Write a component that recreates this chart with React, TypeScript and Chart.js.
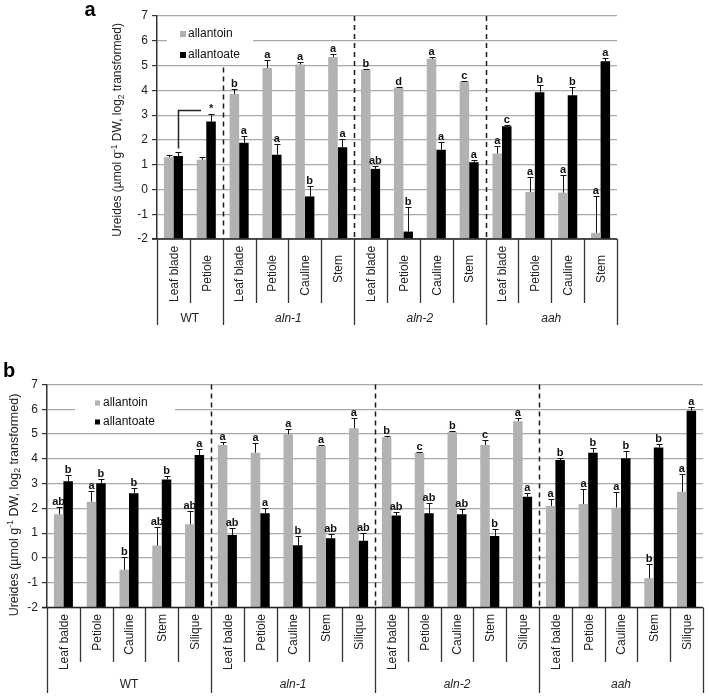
import React, { useEffect, useRef } from "react";
import { Chart, registerables } from "chart.js";
Chart.register(...registerables);

const FONT = "'Liberation Sans', Arial, Helvetica, sans-serif";
const GRAY = "#b2b2b2";
const BLACK = "#000000";

// ---------- Panel a ----------
const A_GROUPS = ["WT", "aln-1", "aln-2", "aah"];
const A_GROUP_SIZES = [2, 4, 4, 4];
const A_TISSUES = [
  "Leaf blade", "Petiole",
  "Leaf blade", "Petiole", "Cauline", "Stem",
  "Leaf blade", "Petiole", "Cauline", "Stem",
  "Leaf blade", "Petiole", "Cauline", "Stem",
];
const A_ALLANTOIN = [1.3, 1.2, 3.85, 4.9, 5.04, 5.35, 4.84, 4.1, 5.27, 4.36, 1.45, -0.1, -0.13, -1.75];
const A_ALLANTOIN_SE = [0.1, 0.1, 0.2, 0.33, 0.12, 0.1, 0.04, 0.03, 0.08, 0.03, 0.29, 0.6, 0.73, 1.5];
const A_ALLANTOIN_LETTERS = ["", "", "b", "a", "a", "a", "b", "d", "a", "c", "a", "a", "a", "a"];
const A_ALLANTOATE = [1.35, 2.74, 1.88, 1.4, -0.28, 1.7, 0.83, -1.7, 1.6, 1.1, 2.55, 3.92, 3.8, 5.17];
const A_ALLANTOATE_SE = [0.15, 0.29, 0.27, 0.45, 0.43, 0.35, 0.1, 1.01, 0.3, 0.1, 0.07, 0.28, 0.32, 0.13];
const A_ALLANTOATE_LETTERS = ["", "*", "a", "a", "b", "a", "ab", "b", "a", "a", "c", "b", "b", "a"];

// ---------- Panel b ----------
const B_GROUPS = ["WT", "aln-1", "aln-2", "aah"];
const B_GROUP_SIZES = [5, 5, 5, 5];
const B_TISSUES = [
  "Leaf balde", "Petiole", "Cauline", "Stem", "Silique",
  "Leaf balde", "Petiole", "Cauline", "Stem", "Silique",
  "Leaf balde", "Petiole", "Cauline", "Stem", "Silique",
  "Leaf balde", "Petiole", "Cauline", "Stem", "Silique",
];
const B_ALLANTOIN = [1.76, 2.27, -0.48, 0.5, 1.36, 4.56, 4.25, 4.99, 4.52, 5.23, 4.87, 4.25, 5.09, 4.56, 5.52, 2.1, 2.18, 2.03, -0.82, 2.67];
const B_ALLANTOIN_SE = [0.31, 0.44, 0.53, 0.76, 0.54, 0.13, 0.37, 0.2, 0.04, 0.4, 0.05, 0.04, 0.03, 0.2, 0.11, 0.28, 0.59, 0.62, 0.57, 0.72];
const B_ALLANTOIN_LETTERS = ["ab", "a", "b", "ab", "ab", "a", "a", "a", "a", "a", "b", "c", "b", "c", "a", "a", "a", "a", "b", "a"];
const B_ALLANTOATE = [3.1, 3.01, 2.61, 3.17, 4.15, 0.93, 1.8, 0.51, 0.79, 0.69, 1.71, 1.8, 1.76, 0.89, 2.47, 3.95, 4.25, 4.02, 4.46, 5.94];
const B_ALLANTOATE_SE = [0.25, 0.18, 0.2, 0.14, 0.25, 0.29, 0.2, 0.39, 0.16, 0.31, 0.16, 0.41, 0.2, 0.28, 0.16, 0.09, 0.2, 0.29, 0.12, 0.16];
const B_ALLANTOATE_LETTERS = ["b", "b", "b", "b", "a", "ab", "a", "b", "ab", "ab", "ab", "ab", "ab", "b", "a", "b", "b", "b", "b", "a"];

const Y_MIN = -2;
const Y_MAX = 7;
const SERIES_NAMES = ["allantoin", "allantoate"];

type Spec = {
  letter: string;
  letterX: number;
  letterY: number;
  height: number;
  axisLeft: number;
  padTop: number;
  padRight: number;
  padBottom: number;
  groups: string[];
  groupSizes: number[];
  tissues: string[];
  series: number[][];
  se: number[][];
  letters: string[][];
  dashStartVal: (number | null)[];
  legend: { x0: number; x1: number; y0: number; y1: number; sqX: number; sq: number; textX: number; rowY: number[] };
  titleX: number;
  titleY: number;
  titleSize: number;
  tissueTop: number;
  tissueMaxBottom: number | null;
  dividerBottom: number;
  groupBottom: number;
  groupLabelY: number;
  bracket: boolean;
};

function drawTitle(ctx: CanvasRenderingContext2D, cx: number, cy: number, size: number) {
  const segs = [
    { t: "Ureides (\u00b5mol g", k: 0 },
    { t: "-1", k: 1 },
    { t: " DW, log", k: 0 },
    { t: "2", k: -1 },
    { t: " transformed)", k: 0 },
  ];
  const f = (k: number) => `${k === 0 ? size : size * 0.7}px ${FONT}`;
  let total = 0;
  const widths = segs.map((s) => {
    ctx.font = f(s.k);
    const w = ctx.measureText(s.t).width;
    total += w;
    return w;
  });
  ctx.save();
  ctx.translate(cx, cy);
  ctx.rotate(-Math.PI / 2);
  ctx.fillStyle = "#222";
  ctx.textBaseline = "alphabetic";
  ctx.textAlign = "left";
  let x = -total / 2;
  const base = size * 0.36;
  segs.forEach((s, i) => {
    ctx.font = f(s.k);
    const dy = s.k === 1 ? -size * 0.38 : s.k === -1 ? size * 0.2 : 0;
    ctx.fillText(s.t, x, base + dy);
    x += widths[i];
  });
  ctx.restore();
}

function decor(p: Spec) {
  return {
    id: "decor",
    beforeDatasetsDraw(chart: any) {
      const { ctx, chartArea, scales } = chart;
      const { left, right, top, bottom } = chartArea;
      const y = scales.y;
      const n = p.tissues.length;
      const w = (right - left) / n;
      ctx.save();
      ctx.strokeStyle = "#1a1a1a";
      ctx.lineWidth = 1.5;
      ctx.setLineDash([5, 4]);
      let cum = 0;
      p.groupSizes.forEach((g, gi) => {
        cum += g;
        if (gi < p.groupSizes.length - 1) {
          const xx = Math.round(left + cum * w) + 0.5;
          const sv = p.dashStartVal[gi];
          const y0 = sv == null ? top : y.getPixelForValue(sv) + 2;
          ctx.beginPath();
          ctx.moveTo(xx, y0);
          ctx.lineTo(xx, bottom);
          ctx.stroke();
        }
      });
      ctx.setLineDash([]);
      const L = p.legend;
      ctx.fillStyle = "#fff";
      ctx.fillRect(L.x0, L.y0, L.x1 - L.x0, L.y1 - L.y0);
      ctx.font = `12px ${FONT}`;
      ctx.textBaseline = "middle";
      ctx.textAlign = "left";
      SERIES_NAMES.forEach((name, i) => {
        ctx.fillStyle = i === 0 ? GRAY : BLACK;
        ctx.fillRect(L.sqX, L.rowY[i] - L.sq / 2, L.sq, L.sq);
        ctx.fillStyle = "#111";
        ctx.fillText(name, L.textX, L.rowY[i]);
      });
      ctx.restore();
    },
    afterDatasetsDraw(chart: any) {
      const { ctx, scales } = chart;
      const y = scales.y;
      ctx.save();
      ctx.strokeStyle = "#111";
      ctx.lineWidth = 1;
      ctx.fillStyle = "#111";
      ctx.font = `bold 11px ${FONT}`;
      ctx.textAlign = "center";
      ctx.textBaseline = "alphabetic";
      p.series.forEach((vals, di) => {
        const meta = chart.getDatasetMeta(di);
        vals.forEach((v, i) => {
          const bar = meta.data[i];
          const cx = Math.round(bar.x) + 0.5;
          const yv = y.getPixelForValue(v);
          const ye = Math.round(y.getPixelForValue(v + p.se[di][i])) + 0.5;
          ctx.beginPath();
          ctx.moveTo(cx, yv);
          ctx.lineTo(cx, ye);
          ctx.moveTo(cx - 3, ye);
          ctx.lineTo(cx + 3, ye);
          ctx.stroke();
          const lt = p.letters[di][i];
          if (lt) ctx.fillText(lt, bar.x, ye - 2.5);
        });
      });
      if (p.bracket) {
        const meta = chart.getDatasetMeta(1);
        const x0 = Math.round(meta.data[0].x) + 0.5;
        const x1 = meta.data[1].x - 10;
        const yLow = y.getPixelForValue(1.65);
        const yHigh = Math.round(y.getPixelForValue(3.2)) + 0.5;
        ctx.lineWidth = 1.5;
        ctx.strokeStyle = "#222";
        ctx.beginPath();
        ctx.moveTo(x0, yLow);
        ctx.lineTo(x0, yHigh);
        ctx.lineTo(x1, yHigh);
        ctx.stroke();
      }
      ctx.restore();
    },
    afterDraw(chart: any) {
      const { ctx, chartArea } = chart;
      const { left, right, bottom } = chartArea;
      const n = p.tissues.length;
      const w = (right - left) / n;
      ctx.save();
      ctx.strokeStyle = "#222";
      ctx.lineWidth = 1.5;
      ctx.beginPath();
      ctx.moveTo(left - 5, bottom);
      ctx.lineTo(right, bottom);
      ctx.stroke();
      const groupEdges = new Set<number>();
      let cum = 0;
      groupEdges.add(0);
      p.groupSizes.forEach((g) => {
        cum += g;
        groupEdges.add(cum);
      });
      ctx.strokeStyle = "#333";
      ctx.lineWidth = 1.3;
      for (let k = 0; k <= n; k++) {
        const xx = Math.round(left + k * w) + 0.5;
        ctx.beginPath();
        ctx.moveTo(xx, bottom);
        ctx.lineTo(xx, groupEdges.has(k) ? p.groupBottom : p.dividerBottom);
        ctx.stroke();
      }
      ctx.fillStyle = "#222";
      ctx.font = `12px ${FONT}`;
      ctx.textAlign = "left";
      ctx.textBaseline = "middle";
      p.tissues.forEach((t, i) => {
        const cx = left + (i + 0.5) * w;
        const tw = ctx.measureText(t).width;
        let yStart = p.tissueTop + tw;
        if (p.tissueMaxBottom != null) yStart = Math.min(yStart, p.tissueMaxBottom);
        ctx.save();
        ctx.translate(cx + 1, yStart);
        ctx.rotate(-Math.PI / 2);
        ctx.fillText(t, 0, 0);
        ctx.restore();
      });
      ctx.textAlign = "center";
      cum = 0;
      p.groups.forEach((g, gi) => {
        const cx = left + (cum + p.groupSizes[gi] / 2) * w;
        cum += p.groupSizes[gi];
        ctx.font = `${gi === 0 ? "" : "italic "}12px ${FONT}`;
        ctx.fillText(g, cx, p.groupLabelY);
      });
      drawTitle(ctx, p.titleX, p.titleY, p.titleSize);
      ctx.fillStyle = "#000";
      ctx.font = `bold 20px ${FONT}`;
      ctx.textAlign = "center";
      ctx.textBaseline = "alphabetic";
      ctx.fillText(p.letter, p.letterX, p.letterY);
      ctx.restore();
    },
  };
}

function buildConfig(p: Spec): any {
  return {
    type: "bar",
    data: {
      labels: p.tissues,
      datasets: p.series.map((vals, di) => ({
        label: SERIES_NAMES[di],
        data: vals,
        backgroundColor: di === 0 ? GRAY : BLACK,
        borderWidth: 0,
        base: Y_MIN,
        categoryPercentage: 0.58,
        barPercentage: 1,
      })),
    },
    options: {
      responsive: false,
      animation: false,
      events: [],
      layout: { padding: { left: 0, top: p.padTop, right: p.padRight, bottom: p.padBottom } },
      plugins: { legend: { display: false }, tooltip: { enabled: false } },
      scales: {
        x: { display: false },
        y: {
          min: Y_MIN,
          max: Y_MAX,
          ticks: { stepSize: 1, color: "#222", font: { family: FONT, size: 12 }, padding: 4 },
          grid: { color: "#a9a9a9", lineWidth: 1.2, tickLength: 5, tickColor: "#333" },
          border: { color: "#333", width: 1.5 },
          afterFit: (s: any) => {
            s.width = p.axisLeft;
          },
        },
      },
    },
    plugins: [decor(p)],
  };
}

const SPEC_A: Spec = {
  letter: "a",
  letterX: 90,
  letterY: 16,
  height: 345,
  axisLeft: 157,
  padTop: 16,
  padRight: 92,
  padBottom: 106,
  groups: A_GROUPS,
  groupSizes: A_GROUP_SIZES,
  tissues: A_TISSUES,
  series: [A_ALLANTOIN, A_ALLANTOATE],
  se: [A_ALLANTOIN_SE, A_ALLANTOATE_SE],
  letters: [A_ALLANTOIN_LETTERS, A_ALLANTOATE_LETTERS],
  dashStartVal: [5, null, null],
  legend: { x0: 167, x1: 253, y0: 20, y1: 61, sqX: 180, sq: 6, textX: 188, rowY: [34, 55] },
  titleX: 117,
  titleY: 130,
  titleSize: 12,
  tissueTop: 255,
  tissueMaxBottom: 302,
  dividerBottom: 303,
  groupBottom: 325,
  groupLabelY: 319,
  bracket: true,
};

const SPEC_B: Spec = {
  letter: "b",
  letterX: 9,
  letterY: 32,
  height: 351,
  axisLeft: 47,
  padTop: 39.5,
  padRight: 6,
  padBottom: 88.5,
  groups: B_GROUPS,
  groupSizes: B_GROUP_SIZES,
  tissues: B_TISSUES,
  series: [B_ALLANTOIN, B_ALLANTOATE],
  se: [B_ALLANTOIN_SE, B_ALLANTOATE_SE],
  letters: [B_ALLANTOIN_LETTERS, B_ALLANTOATE_LETTERS],
  dashStartVal: [null, null, null],
  legend: { x0: 75, x1: 175, y0: 45, y1: 85, sqX: 95, sq: 5, textX: 103, rowY: [58, 77] },
  titleX: 13,
  titleY: 160,
  titleSize: 12.5,
  tissueTop: 269,
  tissueMaxBottom: null,
  dividerBottom: 317,
  groupBottom: 348,
  groupLabelY: 340,
  bracket: false,
};

function Panel({ spec, top }: { spec: Spec; top: number }) {
  const ref = useRef<HTMLCanvasElement>(null);
  useEffect(() => {
    const chart = new Chart(ref.current as HTMLCanvasElement, buildConfig(spec));
    return () => chart.destroy();
  }, [spec]);
  return (
    <canvas
      ref={ref}
      width={709}
      height={spec.height}
      style={{ position: "absolute", left: 0, top, width: 709, height: spec.height }}
    />
  );
}

export default function App() {
  return (
    <div style={{ position: "absolute", left: 0, top: 0, width: 709, height: 696, background: "#fff" }}>
      <Panel spec={SPEC_A} top={0} />
      <Panel spec={SPEC_B} top={345} />
    </div>
  );
}
